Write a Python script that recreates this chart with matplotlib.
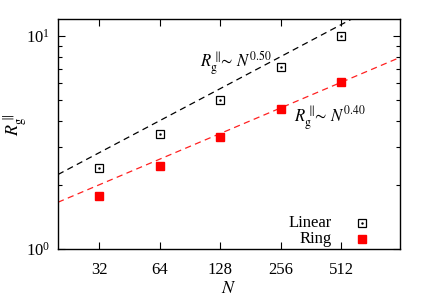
import numpy as np
import matplotlib
matplotlib.use("Agg")
import matplotlib.pyplot as plt
from matplotlib.ticker import FixedLocator, NullFormatter, LogLocator

plt.rcParams['font.family'] = 'Liberation Serif'
plt.rcParams['mathtext.fontset'] = 'stix'

N = [32, 64, 128, 256, 512]
rg_linear = [2.41, 3.48, 5.02, 7.11, 10.0]
rg_ring = [1.78, 2.45, 3.37, 4.54, 6.10]

# power law fits
fit_linear = (0.5, 0.50)
fit_ring = (0.5, 0.40)

fig = plt.figure(figsize=(4.29, 3.01), dpi=100)
ax = fig.add_axes([58 / 429, 1 - 249 / 301, 342 / 429, 230 / 301])
ax.set_xscale('log')
ax.set_yscale('log')

x = np.geomspace(20, 1000, 200)
ax.plot(x, fit_linear[0] * x ** fit_linear[1], color='black', ls=(0, (5, 3.5)), lw=0.9)
ax.plot(x, fit_ring[0] * x ** fit_ring[1], color='#ff2020', ls=(0, (5, 3.5)), lw=0.9)

ax.plot(N, rg_linear, ls='none', marker='s', ms=6, mfc='none', mec='black', mew=0.9)
ax.plot(N, rg_linear, ls='none', marker='.', ms=1.5, color='black')
ax.plot(N, rg_ring, ls='none', marker='s', ms=6, color='red', mec='red')

ax.set_xlim(20, 1000)
ax.set_ylim(1, 12)
ax.xaxis.set_major_locator(FixedLocator(N))
ax.set_xticklabels([str(n) for n in N])
ax.xaxis.set_minor_locator(FixedLocator([]))
ax.yaxis.set_major_locator(LogLocator(base=10))
ax.yaxis.set_minor_locator(LogLocator(base=10, subs=np.arange(2, 10)))
ax.yaxis.set_minor_formatter(NullFormatter())
ax.tick_params(which='both', direction='in', top=True, right=True, labelsize=12)
ax.tick_params(axis='x', pad=9)
ax.tick_params(axis='y', pad=6)
ax.tick_params(which='major', length=5, width=0.8)
ax.tick_params(which='minor', length=3, width=0.8)
for s in ax.spines.values():
    s.set_linewidth(1.0)

ax.set_xlabel(r'$N$', fontsize=13)
ax.xaxis.set_label_coords(0.5, -0.135)
ax.set_ylabel(r'$R_{\rm g}^{\parallel}$', fontsize=13)
ax.yaxis.set_label_coords(-0.085, 0.54)

ax.text(0.415, 0.79, r'$R_{\rm g}^{\parallel}\!\!\sim\, N^{0.50}$', transform=ax.transAxes, fontsize=12)
ax.text(0.69, 0.555, r'$R_{\rm g}^{\parallel}\!\!\sim\, N^{0.40}$', transform=ax.transAxes, fontsize=12)

# key
ax.text(0.80, 0.115, 'Linear', transform=ax.transAxes, fontsize=12, ha='right', va='center')
ax.text(0.80, 0.045, 'Ring', transform=ax.transAxes, fontsize=12, ha='right', va='center')
ax.plot([0.888], [0.115], transform=ax.transAxes, marker='s', ms=6, mfc='none', mec='black', mew=0.9)
ax.plot([0.888], [0.115], transform=ax.transAxes, marker='.', ms=1.5, color='black')
ax.plot([0.888], [0.045], transform=ax.transAxes, marker='s', ms=6, color='red')

fig.savefig('out.png', dpi=100)
